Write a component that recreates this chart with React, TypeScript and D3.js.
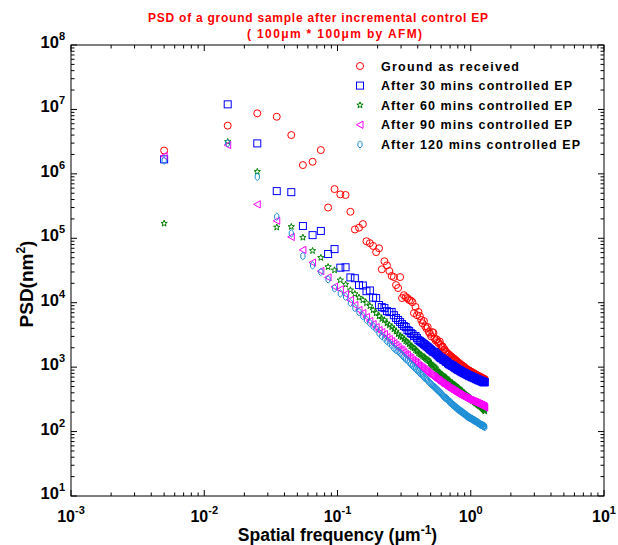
import React from 'react';
import * as d3 from 'd3';

// Spatial frequency (um^-1)
const FREQ = [
  0.005, 0.015, 0.025, 0.035, 0.045, 0.055, 0.065, 0.075, 0.085, 0.095,
  0.105, 0.115, 0.125, 0.135, 0.145, 0.155, 0.165, 0.175, 0.185, 0.195,
  0.205, 0.215, 0.225, 0.235, 0.245, 0.255, 0.265, 0.275, 0.285, 0.295,
  0.305, 0.315, 0.325, 0.335, 0.345, 0.355, 0.365, 0.375, 0.385, 0.395,
  0.405, 0.415, 0.425, 0.435, 0.445, 0.455, 0.465, 0.475, 0.485, 0.495,
  0.505, 0.515, 0.525, 0.535, 0.545, 0.555, 0.565, 0.575, 0.585, 0.595,
  0.605, 0.615, 0.625, 0.635, 0.645, 0.655, 0.665, 0.675, 0.685, 0.695,
  0.705, 0.715, 0.725, 0.735, 0.745, 0.755, 0.765, 0.775, 0.785, 0.795,
  0.805, 0.815, 0.825, 0.835, 0.845, 0.855, 0.865, 0.875, 0.885, 0.895,
  0.905, 0.915, 0.925, 0.935, 0.945, 0.955, 0.965, 0.975, 0.985, 0.995,
  1.005, 1.015, 1.025, 1.035, 1.045, 1.055, 1.065, 1.075, 1.085, 1.095,
  1.105, 1.115, 1.125, 1.135, 1.145, 1.155, 1.165, 1.175, 1.185, 1.195,
  1.205, 1.215, 1.225, 1.235, 1.245, 1.255, 1.265, 1.275,
];

// PSD (nm^2)
const GROUND = [
  2.3e6, 5.6e6, 8.7e6, 7.7e6, 4.0e6, 1.37e6, 1.54e6, 2.34e6, 3.0e5, 5.8e5,
  4.8e5, 4.7e5, 2.58e5, 1.37e5, 1.46e5, 1.66e5, 9.0e4, 8.4e4, 7.6e4, 6.1e4,
  7.0e4, 3.3e4, 4.4e4, 3.8e4, 3.1e4, 2.6e4, 2.5e4, 1.88e4, 1.69e4, 2.5e4,
  1.18e4, 1.31e4, 1.22e4, 1.18e4, 1.1e4, 1.08e4, 1.02e4, 6.9e3, 8.6e3, 6.4e3,
  7.2e3, 6.2e3, 5.4e3, 4.8e3, 5.2e3, 4.3e3, 4.0e3, 4.2e3, 3.5e3, 3.3e3,
  3.0e3, 3.5e3, 3.4e3, 2.8e3, 2.6e3, 2.7e3, 2.45e3, 2.36e3, 2.5e3, 2.2e3,
  2.05e3, 2.1e3, 1.84e3, 1.9e3, 1.77e3, 1.72e3, 1.65e3, 1.6e3, 1.58e3, 1.48e3,
  1.5e3, 1.43e3, 1.42e3, 1.38e3, 1.33e3, 1.34e3, 1.29e3, 1.24e3, 1.25e3, 1.2e3,
  1.15e3, 1.16e3, 1.11e3, 1.12e3, 1.07e3, 1.08e3, 1.04e3, 1.03e3, 1.0e3, 1.01e3,
  965, 960, 931, 935, 898, 905, 895, 867, 870, 862,
  836, 840, 832, 807, 810, 803, 779, 782, 776, 751,
  755, 748, 725, 728, 722, 726, 699, 702, 697, 700,
  675, 678, 672, 676, 651, 655, 649, 652,
];

const EP30 = [
  1.68e6, 1.2e7, 2.97e6, 5.4e5, 5.2e5, 1.55e5, 1.12e5, 1.3e5, 5.7e4, 6.8e4,
  3.5e4, 3.55e4, 2.47e4, 2.4e4, 1.88e4, 1.85e4, 1.51e4, 1.55e4, 1.2e4, 1.18e4,
  9.2e3, 8.55e3, 8.25e3, 7.4e3, 7.15e3, 7.2e3, 6.4e3, 5.8e3, 5.4e3, 5.0e3,
  4.66e3, 4.34e3, 4.18e3, 3.76e3, 3.63e3, 3.38e3, 3.26e3, 3.03e3, 3.05e3, 2.82e3,
  2.63e3, 2.54e3, 2.45e3, 2.36e3, 2.28e3, 2.2e3, 2.12e3, 2.05e3, 1.97e3, 1.9e3,
  1.84e3, 1.77e3, 1.71e3, 1.72e3, 1.65e3, 1.59e3, 1.54e3, 1.48e3, 1.43e3, 1.38e3,
  1.39e3, 1.33e3, 1.29e3, 1.3e3, 1.24e3, 1.2e3, 1.21e3, 1.15e3, 1.11e3, 1.12e3,
  1.07e3, 1.08e3, 1.04e3, 1.05e3, 1.0e3, 1.01e3, 965, 970, 931, 935,
  898, 902, 895, 867, 870, 836, 840, 832, 807, 810,
  804, 779, 782, 776, 751, 755, 748, 725, 728, 722,
  726, 699, 702, 697, 700, 675, 678, 672, 676, 651,
  655, 649, 652, 628, 631, 626, 629, 627, 606, 609,
  604, 607, 605, 585, 588, 583, 586, 584,
];

const EP60 = [
  1.7e5, 3.15e6, 1.08e6, 1.48e5, 1.51e5, 1.03e5, 6.4e4, 5.0e4, 3.6e4, 3.2e4,
  2.24e4, 1.92e4, 1.57e4, 1.37e4, 1.21e4, 1.1e4, 9.9e3, 8.9e3, 7.7e3, 6.9e3,
  6.2e3, 5.6e3, 5.4e3, 4.8e3, 4.5e3, 4.2e3, 3.9e3, 3.6e3, 3.26e3, 3.03e3,
  2.93e3, 2.72e3, 2.54e3, 2.45e3, 2.28e3, 2.12e3, 2.05e3, 1.97e3, 1.84e3, 1.77e3,
  1.65e3, 1.59e3, 1.54e3, 1.48e3, 1.43e3, 1.38e3, 1.33e3, 1.29e3, 1.24e3, 1.15e3,
  1.11e3, 1.07e3, 1.04e3, 1.0e3, 965, 898, 867, 836, 807, 779,
  751, 755, 725, 699, 675, 678, 651, 628, 606, 609,
  585, 564, 567, 545, 525, 528, 507, 510, 489, 472,
  475, 455, 458, 439, 424, 427, 409, 395, 398, 381,
  384, 367, 370, 354, 356, 342, 345, 330, 332, 318,
  320, 307, 309, 296, 298, 295, 286, 288, 276, 278,
  275, 266, 268, 257, 259, 256, 248, 250, 247, 239,
  241, 231, 233, 223, 225, 215, 217, 207,
];

const EP90 = [
  1.9e6, 2.8e6, 3.36e5, 1.87e5, 1.05e5, 6.6e4, 4.2e4, 3.1e4, 2.47e4, 1.77e4,
  1.61e4, 1.36e4, 1.1e4, 9.2e3, 7.7e3, 6.9e3, 6.0e3, 5.2e3, 4.66e3, 4.18e3,
  3.76e3, 3.5e3, 3.26e3, 2.93e3, 2.72e3, 2.54e3, 2.36e3, 2.2e3, 2.05e3, 1.9e3,
  1.84e3, 1.71e3, 1.59e3, 1.54e3, 1.43e3, 1.38e3, 1.29e3, 1.24e3, 1.2e3, 1.15e3,
  1.07e3, 1.04e3, 1.0e3, 965, 931, 898, 867, 836, 807, 779,
  751, 725, 728, 699, 675, 651, 628, 631, 606, 585,
  564, 567, 545, 525, 528, 507, 510, 489, 472, 475,
  455, 458, 439, 442, 424, 427, 409, 412, 395, 398,
  381, 384, 379, 367, 370, 354, 357, 352, 342, 345,
  340, 330, 333, 328, 318, 321, 316, 307, 310, 305,
  308, 296, 299, 294, 297, 286, 289, 284, 287, 276,
  279, 274, 277, 266, 269, 264, 267, 265, 257, 259,
  255, 258, 248, 250, 246, 249, 239, 236,
];

const EP120 = [
  1.6e6, 3.0e6, 9.0e5, 2.16e5, 1.19e5, 5.3e4, 3.8e4, 3.0e4, 2.3e4, 1.67e4,
  1.39e4, 1.24e4, 9.9e3, 8.25e3, 7.15e3, 6.2e3, 5.4e3, 4.83e3, 4.34e3, 3.9e3,
  3.38e3, 3.03e3, 2.82e3, 2.54e3, 2.36e3, 2.2e3, 1.97e3, 1.84e3, 1.77e3, 1.65e3,
  1.54e3, 1.43e3, 1.33e3, 1.29e3, 1.2e3, 1.11e3, 1.07e3, 1.0e3, 965, 898,
  867, 807, 779, 751, 699, 675, 651, 628, 585, 564,
  545, 525, 507, 489, 472, 455, 439, 424, 409, 395,
  381, 367, 354, 342, 330, 333, 318, 307, 296, 286,
  289, 276, 266, 257, 259, 248, 239, 241, 231, 223,
  225, 215, 217, 207, 209, 200, 202, 193, 195, 186,
  188, 180, 182, 173, 175, 167, 169, 166, 161, 163,
  160, 156, 158, 155, 150, 152, 149, 145, 147, 144,
  140, 142, 139, 135, 137, 134, 130, 132, 129, 126,
  127, 125, 126, 121, 123, 120, 122, 117,
];

const SERIES_NAMES = [
  'Ground as received',
  'After 30 mins controlled EP',
  'After 60 mins controlled EP',
  'After 90 mins controlled EP',
  'After 120 mins controlled EP',
];
const SERIES_VALUES = [GROUND, EP30, EP60, EP90, EP120];
const SERIES_COLORS = ['#ff0000', '#0000ff', '#007f00', '#ff00ff', '#1f8fd6'];
const SERIES_MARKERS = ['circle', 'square', 'star', 'triangleLeft', 'hex'];
const LEGEND_WIDTHS = [138, 191, 191, 191, 199];

const X_TICKS = [1e-3, 1e-2, 1e-1, 1, 10];
const X_TICK_EXP = ['-3', '-2', '-1', '0', '1'];
const Y_TICKS = [1e1, 1e2, 1e3, 1e4, 1e5, 1e6, 1e7, 1e8];
const Y_TICK_EXP = ['1', '2', '3', '4', '5', '6', '7', '8'];

const TITLE_1 = 'PSD of a ground sample after incremental control EP';
const TITLE_2 = '( 100\u03bcm * 100\u03bcm by AFM)';

const W = 618;
const H = 545;
const LEFT = 71;
const RIGHT = 604;
const TOP = 45;
const BOTTOM = 496;
const FONT = "'Liberation Sans', Arial, Helvetica, sans-serif";

function starPath(ro: number, ri: number) {
  const pts: string[] = [];
  for (let i = 0; i < 10; i++) {
    const r = i % 2 === 0 ? ro : ri;
    const a = -Math.PI / 2 + (i * Math.PI) / 5;
    pts.push(`${(r * Math.cos(a)).toFixed(2)},${(r * Math.sin(a)).toFixed(2)}`);
  }
  return 'M' + pts.join('L') + 'Z';
}
const STAR = starPath(3.3, 1.35);
const TRI = 'M-3.6,0L3.0,-3.6L3.0,3.6Z';
const HEX = 'M0,-3.6L2.1,-1.8L2.1,1.8L0,3.6L-2.1,1.8L-2.1,-1.8Z';

function Marker({ kind, x, y, color }: { kind: string; x: number; y: number; color: string }) {
  const common = { fill: 'none', stroke: color, strokeWidth: 1 };
  if (kind === 'circle') return <circle cx={x} cy={y} r={3.5} {...common} />;
  if (kind === 'square') return <rect x={x - 3.5} y={y - 3.5} width={7} height={7} {...common} />;
  if (kind === 'star') return <path d={STAR} transform={`translate(${x},${y})`} {...common} />;
  if (kind === 'triangleLeft') return <path d={TRI} transform={`translate(${x},${y})`} {...common} />;
  return <path d={HEX} transform={`translate(${x},${y})`} {...common} />;
}

export default function App() {
  const x = d3.scaleLog().domain([1e-3, 10]).range([LEFT, RIGHT]);
  const y = d3.scaleLog().domain([10, 1e8]).range([BOTTOM, TOP]);

  const xMinor: number[] = [];
  for (let e = -3; e < 1; e++) for (let m = 2; m < 10; m++) xMinor.push(m * Math.pow(10, e));
  const yMinor: number[] = [];
  for (let e = 1; e < 8; e++) for (let m = 2; m < 10; m++) yMinor.push(m * Math.pow(10, e));

  const MAJ = 6;
  const MIN = 3.5;

  return (
    <svg width={W} height={H} style={{ position: 'absolute', left: 0, top: 0, background: '#fff' }}
      fontFamily={FONT}>
      <rect x={0} y={0} width={W} height={H} fill="#fff" />

      {/* title */}
      <text x={148} y={21.5} fontSize={12} fontWeight="bold" fill="#ff0000"
        textLength={340} lengthAdjust="spacing">{TITLE_1}</text>
      <text x={247} y={37.5} fontSize={12} fontWeight="bold" fill="#ff0000"
        textLength={175} lengthAdjust="spacing">{TITLE_2}</text>

      {/* markers */}
      <g>
        {SERIES_VALUES.map((vals, si) => (
          <g key={si}>
            {vals.map((v, i) => (
              <Marker key={i} kind={SERIES_MARKERS[si]} x={x(FREQ[i])} y={y(v)} color={SERIES_COLORS[si]} />
            ))}
          </g>
        ))}
      </g>

      {/* frame */}
      <rect x={LEFT} y={TOP} width={RIGHT - LEFT} height={BOTTOM - TOP} fill="none" stroke="#000" strokeWidth={1} />

      {/* ticks */}
      <g stroke="#000" strokeWidth={1}>
        {X_TICKS.map((t, i) => (
          <g key={'xm' + i}>
            <line x1={x(t)} x2={x(t)} y1={BOTTOM} y2={BOTTOM - MAJ} />
            <line x1={x(t)} x2={x(t)} y1={TOP} y2={TOP + MAJ} />
          </g>
        ))}
        {xMinor.map((t, i) => (
          <g key={'xn' + i}>
            <line x1={x(t)} x2={x(t)} y1={BOTTOM} y2={BOTTOM - MIN} />
            <line x1={x(t)} x2={x(t)} y1={TOP} y2={TOP + MIN} />
          </g>
        ))}
        {Y_TICKS.map((t, i) => (
          <g key={'ym' + i}>
            <line x1={LEFT} x2={LEFT + MAJ} y1={y(t)} y2={y(t)} />
            <line x1={RIGHT} x2={RIGHT - MAJ} y1={y(t)} y2={y(t)} />
          </g>
        ))}
        {yMinor.map((t, i) => (
          <g key={'yn' + i}>
            <line x1={LEFT} x2={LEFT + MIN} y1={y(t)} y2={y(t)} />
            <line x1={RIGHT} x2={RIGHT - MIN} y1={y(t)} y2={y(t)} />
          </g>
        ))}
      </g>

      {/* x tick labels */}
      {X_TICKS.map((t, i) => (
        <text key={'xl' + i} x={x(t)} y={522} textAnchor="middle" fontSize={16} fontWeight="bold" fill="#000">
          10<tspan fontSize={11} dy={-8}>{X_TICK_EXP[i]}</tspan>
        </text>
      ))}

      {/* y tick labels */}
      {Y_TICKS.map((t, i) => (
        <text key={'yl' + i} x={65} y={y(t) + 3} textAnchor="end" fontSize={16.5} fontWeight="bold" fill="#000">
          10<tspan fontSize={11} dy={-8}>{Y_TICK_EXP[i]}</tspan>
        </text>
      ))}

      {/* axis titles */}
      <text x={(LEFT + RIGHT) / 2} y={540.5} textAnchor="middle" fontSize={17.5} fontWeight="bold" fill="#000">
        Spatial frequency ({'\u03bc'}m<tspan fontSize={12} dy={-7}>-1</tspan><tspan dy={7}>)</tspan>
      </text>
      <text transform={`translate(33,284) rotate(-90)`} textAnchor="middle"
        fontSize={19} fontWeight="bold" fill="#000">
        PSD(nm<tspan fontSize={12} dy={-8}>2</tspan><tspan dy={8}>)</tspan>
      </text>

      {/* legend */}
      {SERIES_NAMES.map((name, i) => {
        const ly = 66 + i * 19.6;
        return (
          <g key={'lg' + i}>
            <Marker kind={SERIES_MARKERS[i]} x={360} y={ly} color={SERIES_COLORS[i]} />
            <text x={381} y={ly + 4.5} fontSize={12.5} fontWeight="bold" fill="#000"
              textLength={LEGEND_WIDTHS[i]} lengthAdjust="spacing">{name}</text>
          </g>
        );
      })}
    </svg>
  );
}
